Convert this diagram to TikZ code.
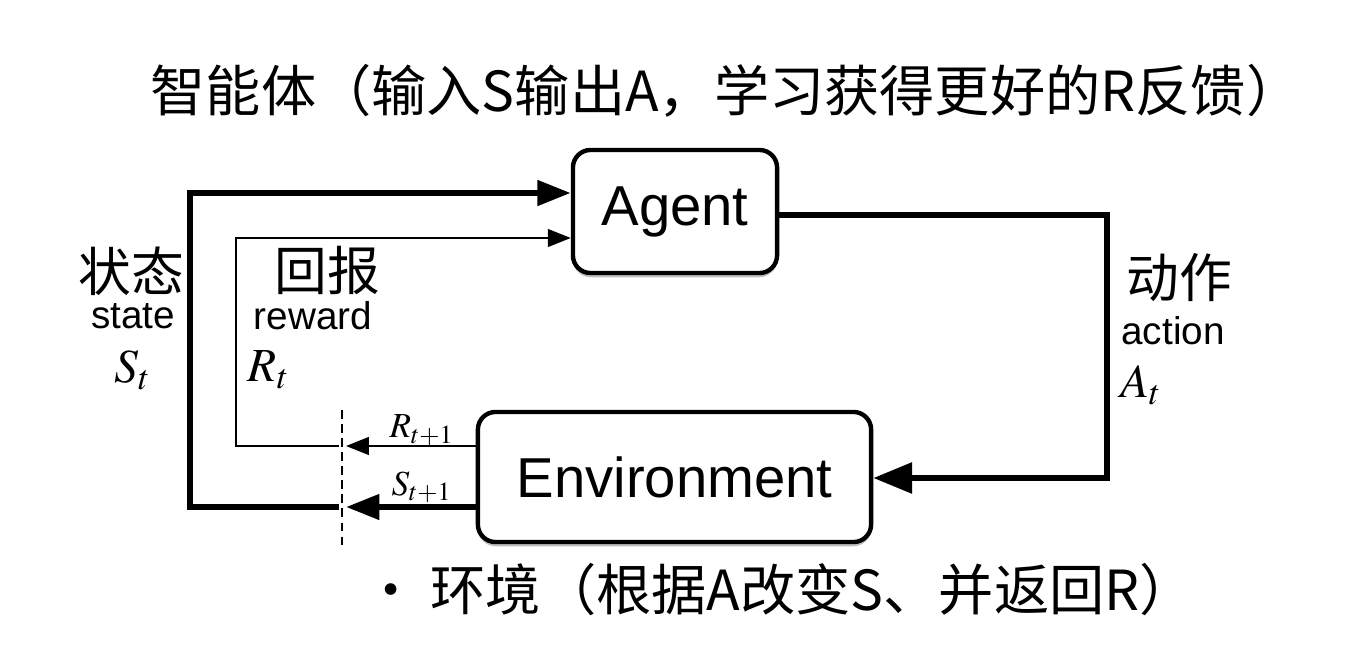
\documentclass[tikz,border=0pt]{standalone}
\usepackage{mathptmx}
\usepackage{fontspec}
\setmainfont{Liberation Sans}
\newfontfamily\cjk{Noto Sans CJK SC}
\usetikzlibrary{arrows.meta,shadows}
\tikzset{>=stealth,
  box/.style={draw,line width=1.25pt,rounded corners=5pt,fill=white,inner sep=0pt,
    font=\fontsize{16}{18}\selectfont,
    drop shadow={shadow xshift=0pt,shadow yshift=-1.2pt,opacity=0.25,fill=black}},
  bigline/.style={line width=1.7pt},
  thinline/.style={line width=0.7pt},
  bigtip/.style={-{Triangle[length=9.5pt,width=7pt]}},
  smalltip/.style={-{Triangle[length=6.5pt,width=5pt]}},
  cutline/.style={line width=0.45pt,dash pattern=on 2.5pt off 1.5pt},
  cn/.style={font=\cjk\fontsize{15}{16}\selectfont,inner sep=0pt},
  en/.style={font=\fontsize{11}{12}\selectfont,inner sep=0pt},
  mt/.style={font=\fontsize{13.5}{14}\selectfont,inner sep=0pt},
  sm/.style={font=\fontsize{10}{11}\selectfont,inner sep=0pt},
  big/.style={font=\cjk\fontsize{15.7}{18}\selectfont,inner sep=0pt}
}
\begin{document}
\begin{tikzpicture}[x=0.01cm,y=-0.01cm]
\useasboundingbox (0,0) rectangle (1361,670);
% boxes
\node[box,minimum width=2.04cm,minimum height=1.23cm] (agent) at (675,211.5) {Agent};
\node[box,minimum width=3.93cm,minimum height=1.30cm] (env) at (674.5,477) {Environment};
% cut line
\coordinate (cuttop) at (342,410);
\coordinate (cutbot) at (342,545);
\draw[cutline] (cuttop) -- (cutbot);
\coordinate (sin) at (346,507);
\coordinate (sout) at (339,507);
\coordinate (rin) at (346,446);
\coordinate (rout) at (339,446);
% state loop
\draw[bigline,bigtip] (env.west |- sin) -- (sin);
\draw[bigline,bigtip] (sout) -| (190,193) -- (agent.west |- 0,193);
% reward loop
\draw[thinline,smalltip] (env.west |- rin) -- (rin);
\draw[thinline,smalltip] (rout) -| (236,238) -- (agent.west |- 0,238);
% action
\draw[bigline,-{Triangle[length=11pt,width=8.5pt]}] (agent.east |- 0,215) -| (1107,478) -- (env.east |- 0,478);
% labels
\node[cn] (zt) at (131,271) {状态};
\node[en] (st) at (133,316) {state};
\node[mt] (stv) at (133,370) {$S_t$};
\node[cn] (hb) at (327,271) {回报};
\node[en] (rw) at (313,316) {reward};
\node[mt] (rtv) at (269,370) {$R_t$};
\node[cn] (dz) at (1179,278) {动作};
\node[en] (ac) at (1173,331) {action};
\node[mt] (atv) at (1141,385) {$A_t$};
\node[sm] (r1) at (422,430) {$R_{t+1}$};
\node[sm] (s1) at (422,487) {$S_{t+1}$};
\node[big] (title) at (726,91) {智能体（输入S输出A，学习获得更好的R反馈）};
\node[big] (envnote) at (779,590) {•\ 环境（根据A改变S、并返回R）};
\end{tikzpicture}
\end{document}
